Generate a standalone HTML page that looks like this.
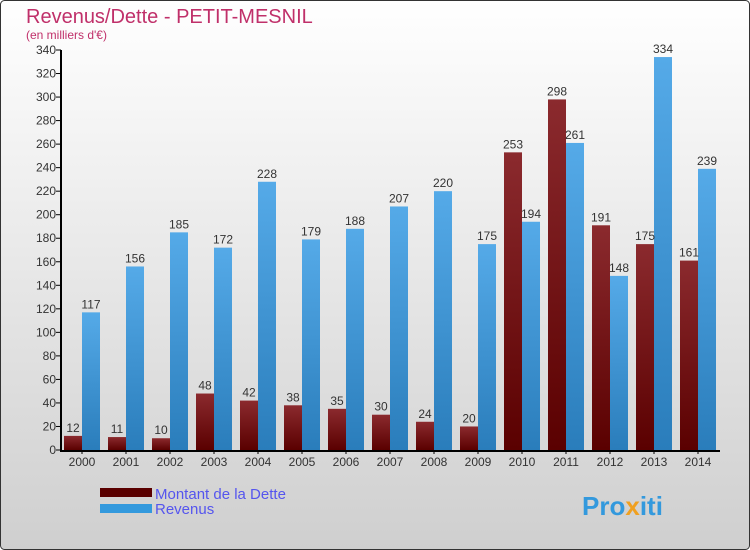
<!DOCTYPE html>
<html><head><meta charset="utf-8"><style>
body{margin:0}
#c{width:750px;height:550px;position:relative;overflow:hidden;font-family:"Liberation Sans",sans-serif;}
</style></head><body>
<div id="c">
<svg width="750" height="550" xmlns="http://www.w3.org/2000/svg" id="svg">
<defs>
<linearGradient id="bg" x1="0" y1="0" x2="0" y2="1"><stop offset="0" stop-color="#ffffff"/><stop offset="1" stop-color="#cfcfcf"/></linearGradient>
<linearGradient id="gd" x1="0" y1="0" x2="0" y2="1"><stop offset="0" stop-color="#8b2a2e"/><stop offset="1" stop-color="#5a0000"/></linearGradient>
<linearGradient id="gr" x1="0" y1="0" x2="0" y2="1"><stop offset="0" stop-color="#55aae8"/><stop offset="1" stop-color="#2a7dbb"/></linearGradient>
</defs>
<rect x="0.5" y="0.5" width="749" height="549" rx="4" fill="url(#bg)" stroke="#333"/>
<text x="26" y="23" font-size="20" fill="#c0306a">Revenus/Dette - PETIT-MESNIL</text>
<text x="26" y="39" font-size="12" fill="#c0306a">(en milliers d'€)</text>
<g id="grid"></g><g id="bars"></g><g id="axes"></g>
<rect x="100" y="488" width="52" height="9" fill="#5a0000"/>
<text x="155" y="499" font-size="15" fill="#5555ee">Montant de la Dette</text>
<rect x="100" y="504" width="52" height="9" fill="#3399dd"/>
<text x="155" y="514" font-size="15" fill="#5555ee">Revenus</text>
<text x="582" y="515" font-size="26" font-weight="bold" fill="#3399dd">Pro<tspan fill="#f0a020">x</tspan>iti</text>
</svg></div>
<script>
const years=["2000","2001","2002","2003","2004","2005","2006","2007","2008","2009","2010","2011","2012","2013","2014"];
const dette=[12,11,10,48,42,38,35,30,24,20,253,298,191,175,161];
const revenus=[117,156,185,172,228,179,188,207,220,175,194,261,148,334,239];
const yTicks=[0,20,40,60,80,100,120,140,160,180,200,220,240,260,280,300,320,340];
const NS="http://www.w3.org/2000/svg";
const y0=450,yTop=50,yMax=340,x0=82,step=44,bw=18;
const Y=v=>y0-(v/yMax)*(y0-yTop);
const X=i=>x0+i*step;
function mk(t,a,p){const e=document.createElementNS(NS,t);for(const k in a)e.setAttribute(k,a[k]);p.appendChild(e);return e;}
const g=document.getElementById('grid'),b=document.getElementById('bars'),ax=document.getElementById('axes');
yTicks.forEach(v=>{
 const t=mk('text',{x:56,y:Y(v)+4,'font-size':12,fill:'#333','text-anchor':'end'},ax);t.textContent=v;
 
 
 const l=mk('line',{x1:56,x2:61,y1:Y(v),y2:Y(v),stroke:'#000'},ax);
 
 
});
years.forEach((yr,i)=>{
 const cx=X(i);
 const r1=mk('rect',{x:cx-bw,y:Y(dette[i]),width:bw,height:y0-Y(dette[i]),fill:'url(#gd)'},b);
 
 
 const r2=mk('rect',{x:cx,y:Y(revenus[i]),width:bw,height:y0-Y(revenus[i]),fill:'url(#gr)'},b);
 
 
 const t1=mk('text',{x:cx-bw/2,y:Y(dette[i])-4,'font-size':12,fill:'#333','text-anchor':'middle'},b);t1.textContent=dette[i];
 
 
 const t2=mk('text',{x:cx+bw/2,y:Y(revenus[i])-4,'font-size':12,fill:'#333','text-anchor':'middle'},b);t2.textContent=revenus[i];
 
 
 const tl=mk('text',{x:cx,y:466,'font-size':12,fill:'#333','text-anchor':'middle'},ax);tl.textContent=yr;
 
 
 const tk=mk('line',{x1:cx,x2:cx,y1:450,y2:454,stroke:'#000'},ax);
 
 
});
const ya=mk('line',{x1:61,x2:61,y1:Y(340),y2:451,stroke:'#000','stroke-width':2},ax);


const xa=mk('line',{x1:60,x2:720,y1:451,y2:451,stroke:'#000','stroke-width':2},ax);


</script>
</body></html>
